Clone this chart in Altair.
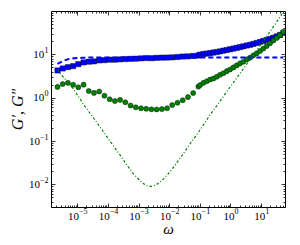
import altair as alt
import pandas as pd

# ---- data ----
omega = [2.28e-6, 3.37e-6, 4.99e-6, 7.39e-6, 1.09e-5, 1.62e-5, 2.39e-5, 3.54e-5, 5.24e-5, 7.76e-5,
         1.15e-4, 1.70e-4, 2.51e-4, 3.72e-4, 5.51e-4, 8.15e-4, 1.21e-3, 1.78e-3, 2.64e-3, 3.91e-3,
         5.78e-3, 8.55e-3, 1.26e-2, 1.87e-2, 2.77e-2, 4.10e-2, 6.07e-2, 8.98e-2,
         0.102, 0.131, 0.169, 0.217, 0.278, 0.357, 0.459, 0.589, 0.757, 0.971,
         1.25, 1.60, 2.06, 2.64, 3.39, 4.36, 5.59, 7.18, 9.22, 11.8,
         15.2, 19.5, 25.1, 32.2, 41.3, 53.1]
G_storage = [4.25, 4.72, 5.07, 5.35, 5.94, 6.51, 6.76, 6.87, 7.25, 7.36,
             7.53, 7.53, 7.65, 7.78, 7.86, 7.94, 8.07, 8.2, 8.15, 8.3,
             8.38, 8.42, 8.51, 8.69, 8.89, 8.98, 9.18, 9.38,
             9.84, 10.2, 10.4, 10.7, 11.0, 11.3, 11.7, 12.2, 12.6, 13.1,
             13.6, 14.1, 14.7, 15.3, 16.0, 16.6, 17.4, 18.3, 19.3, 20.4,
             21.5, 22.7, 24.2, 25.9, 28.0, 31.3]
G_loss = [1.77, 2.06, 2.20, 1.99, 1.74, 2.00, 1.43, 1.29, 1.39, 1.11,
          0.92, 0.84, 0.89, 0.785, 0.66, 0.60, 0.57, 0.555, 0.54, 0.535,
          0.546, 0.57, 0.676, 0.766, 0.875, 1.03, 1.28, 1.80,
          1.95, 2.20, 2.39, 2.62, 2.77, 3.03, 3.37, 3.67, 4.09, 4.48,
          4.99, 5.55, 6.18, 6.77, 7.65, 8.38, 9.48, 10.5, 11.9, 13.6,
          15.6, 18.0, 20.8, 23.9, 27.7, 33.0]

fit_storage_w = [2.28e-6, 3.4e-6, 5e-6, 8e-6, 1.5e-5, 5e-5, 1e-3, 1.0, 53.1]
fit_storage_G = [6.0, 7.0, 7.7, 8.1, 8.35, 8.5, 8.5, 8.5, 8.5]

fit_loss_w = [2.28e-6, 3.0e-6, 7.4e-6, 1.82e-5, 4.39e-5, 9.29e-5, 1.53e-4, 2.52e-4, 4.17e-4, 6.85e-4,
              1.29e-3, 1.87e-3, 2.73e-3, 3.97e-3, 5.78e-3, 1.08e-2, 1.78e-2, 2.92e-2, 4.83e-2, 7.99e-2,
              0.131, 0.217, 0.359, 0.589, 0.975, 1.61, 2.64, 4.37, 7.23, 11.9,
              19.6, 32.4, 53.2]
fit_loss_G = [4.5, 3.43, 1.62, 0.618, 0.267, 0.126, 0.0766, 0.0472, 0.0277, 0.0174,
              0.011, 0.00923, 0.00898, 0.0100, 0.0122, 0.0197, 0.0316, 0.0518, 0.0865, 0.140,
              0.236, 0.403, 0.652, 1.07, 1.77, 2.87, 4.64, 7.65, 12.6, 20.4,
              33.7, 56.4, 96.4]

x_domain = [1.4e-6, 60]
y_domain = [0.003, 100]
x_major = [1e-5, 1e-4, 1e-3, 1e-2, 1e-1, 1, 10]
x_major_exp = ["−5", "−4", "−3", "−2", "−1", "0", "1"]
y_major = [1e-2, 1e-1, 1, 10]
y_major_exp = ["−2", "−1", "0", "1"]

x_ticks = [m * 10.0 ** k for k in range(-6, 2) for m in range(1, 10)
           if x_domain[0] <= m * 10.0 ** k <= x_domain[1] * 0.999]
y_ticks = [m * 10.0 ** k for k in range(-3, 2) for m in range(1, 10)
           if y_domain[0] <= m * 10.0 ** k < y_domain[1] * 0.999]


def label_expr(vals, labs):
    s = ""
    for v, l in zip(vals, labs):
        s += f"abs(datum.value/{v} - 1) < 1e-6 ? '{l}' : "
    return s + "''"


tick_size = alt.ExprRef(
    expr="abs(log(datum.value)/LN10 - round(log(datum.value)/LN10)) < 0.001 ? -4 : -2")

FONT = "Liberation Serif"
BASE = 11
EXP = 8
ticks_only = dict(tickSize=tick_size, tickColor="black", tickWidth=0.8, domain=False,
                  grid=False)
base_lab = dict(labelOverlap=False, labelFlush=False, labelFont=FONT,
                labelFontSize=BASE, labelColor="black",
                titleFont=FONT, titleFontStyle="italic", titleFontWeight="normal",
                titleColor="black")
exp_lab = dict(ticks=False, domain=False, grid=False, labelOverlap=False, labelFlush=False,
               labelFont=FONT, labelFontSize=EXP, labelColor="black", title=None)

xs = alt.Scale(type="log", domain=x_domain, nice=False)
ys = alt.Scale(type="log", domain=y_domain, nice=False)

df = pd.DataFrame({"w": omega, "Gp": G_storage, "Gpp": G_loss})
df_fp = pd.DataFrame({"w": fit_storage_w, "G": fit_storage_G})
df_fpp = pd.DataFrame({"w": fit_loss_w, "G": fit_loss_G})

squares = alt.Chart(df).mark_point(
    shape="square", filled=True, size=28, color="#0000ff", stroke="black",
    strokeWidth=0.4, opacity=1, clip=True
).encode(
    x=alt.X("w:Q", scale=xs, axis=alt.Axis(
        orient="bottom", values=x_ticks, title="ω", titleFontSize=15, titlePadding=-2,
        labelExpr=label_expr(x_major, ["10"] * len(x_major)),
        labelPadding=7,
        labelOffset=alt.ExprRef(expr="datum.value < 1 ? -4.2 : -2"),
        **ticks_only, **base_lab)),
    y=alt.Y("Gp:Q", scale=ys, axis=alt.Axis(
        orient="left", values=y_ticks, title="G′, G″", titleFontSize=16,
        titleX=-26, titleY=98,
        labelExpr=label_expr(y_major, ["10"] * len(y_major)),
        labelPadding=alt.ExprRef(expr="datum.value < 1 ? 15.5 : 11.2"),
        **ticks_only, **base_lab)),
)

circles = alt.Chart(df).mark_point(
    shape="circle", filled=True, size=26, color="#008000", stroke="black",
    strokeWidth=0.4, opacity=1, clip=True
).encode(
    x=alt.X("w:Q", scale=xs, axis=alt.Axis(orient="top", values=x_ticks, labels=False,
                                           title=None, **ticks_only)),
    y=alt.Y("Gpp:Q", scale=ys, axis=alt.Axis(orient="right", values=y_ticks, labels=False,
                                             title=None, **ticks_only)),
)

fit_p = alt.Chart(df_fp).mark_line(
    color="#0000ff", strokeWidth=2, strokeDash=[5, 3], clip=True
).encode(
    x=alt.X("w:Q", scale=xs, axis=alt.Axis(
        orient="bottom", values=x_major, labelExpr=label_expr(x_major, x_major_exp),
        labelAlign="left", labelPadding=0,
        labelOffset=alt.ExprRef(expr="datum.value < 1 ? 1.3 : 3.5"),
        **exp_lab)),
    y=alt.Y("G:Q", scale=ys, axis=None),
)

fit_pp = alt.Chart(df_fpp).mark_line(
    color="#008000", strokeWidth=1.2, strokeDash=[2.5, 2, 1, 2], clip=True
).encode(
    x=alt.X("w:Q", scale=xs, axis=None),
    y=alt.Y("G:Q", scale=ys, axis=alt.Axis(
        orient="left", values=y_major, labelExpr=label_expr(y_major, y_major_exp),
        labelAlign="right", labelPadding=3, labelOffset=-4, **exp_lab)),
)

chart = alt.layer(squares, circles, fit_p, fit_pp).resolve_axis(
    x="independent", y="independent"
).properties(
    width=234, height=196,
    autosize=alt.AutoSizeParams(type="none"),
    padding={"left": 43, "top": 3, "right": 5, "bottom": 36},
    background="white",
).configure_view(stroke="black", strokeWidth=1)

chart.save("out.html", embed_options={"renderer": "svg", "actions": False})
